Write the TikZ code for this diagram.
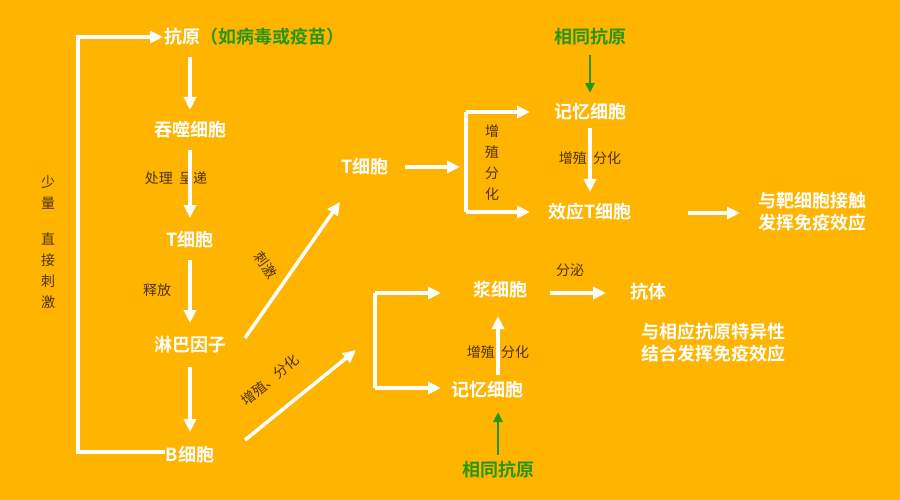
\documentclass[tikz,border=0pt]{standalone}
\usepackage{fontspec}
\usetikzlibrary{arrows.meta}
\newfontfamily\cjk[BoldFont={Noto Sans CJK SC Bold}]{Noto Sans CJK SC}
\definecolor{bg}{RGB}{255,180,0}
\definecolor{lab}{RGB}{80,50,10}
\definecolor{grn}{RGB}{40,150,20}
\begin{document}
\begin{tikzpicture}[x=1pt,y=-1pt,
  mn/.style={font=\cjk\bfseries\fontsize{18}{22}\selectfont,text=white,inner sep=1pt},
  gn/.style={font=\cjk\bfseries\fontsize{18}{22}\selectfont,text=grn,inner sep=1pt},
  lb/.style={font=\cjk\fontsize{14}{16}\selectfont,text=lab,inner sep=1pt},
  ar/.style={draw=white,line width=3.5pt,-{Triangle[length=13pt,width=12pt]}},
  ln/.style={draw=white,line width=3.5pt},
  ga/.style={draw=grn,line width=2.5pt,-{Triangle[length=10pt,width=9pt]}}]
\fill[bg] (0,0) rectangle (900,500);
\node[mn,anchor=west] (ky) at (163,37) {抗原\textcolor{grn}{（如病毒或疫苗）}};
\node[mn] (tsx) at (190,130) {吞噬细胞};
\node[lb] (cl) at (176,178) {处理\ \ 呈递};
\node[mn] (t1) at (190,240) {T细胞};
\node[lb] (sf) at (157,290) {释放};
\node[mn] (lb1) at (190,345) {淋巴因子};
\node[mn] (b1) at (190,455) {B细胞};
\node[lb,align=center] (ls) at (48,242) {少\\[5pt]量\\[20pt]直\\[5pt]接\\[5pt]刺\\[5pt]激};
\coordinate (bl1) at (78,452);
\coordinate (bl2) at (78,37);
\draw[ar,line join=miter] (b1.west |- bl1) -- (bl1) -- (bl2) -- (ky.west);
\draw[ar] (190,57) -- (190,110);
\draw[ar] (190,150) -- (190,218);
\draw[ar] (190,260) -- (190,323);
\draw[ar] (190,367) -- (190,432);
\node[mn] (t2) at (365,167) {T细胞};
\draw[ar] (245,338) -- (340,202);
\node[lb,rotate=-55] (cj) at (266,265) {刺激};
\draw[ar] (245,440) -- (356,350);
\node[lb,rotate=39] (zz) at (270,380) {增殖、分化};
\draw[ar] (405,167) -- (460,167);
\coordinate (u1) at (466,112); \coordinate (u2) at (466,212);
\draw[ln] (u1) -- (u2);
\node[mn] (jy1) at (590,112) {记忆细胞};
\node[mn] (xy) at (590,212) {效应T细胞};
\draw[ar] (u1) -- (530,112);
\draw[ar] (u2) -- (530,212);
\node[lb,align=center] (zf) at (492,163) {增\\[5pt]殖\\[5pt]分\\[5pt]化};
\node[gn] (g1) at (590,37) {相同抗原};
\draw[ga] (590,55) -- (590,93);
\node[lb] (zf2) at (590,158) {增殖\ \ 分化};
\draw[ar] (590,128) -- (590,192);
\draw[ar] (688,213) -- (740,213);
\node[mn,align=center] (bx) at (812,212) {与靶细胞接触\\发挥免疫效应};
\coordinate (v1) at (375,293); \coordinate (v2) at (375,388);
\draw[ln] (v1) -- (v2);
\node[mn] (jx) at (500,290) {浆细胞};
\node[mn] (jy2) at (487,390) {记忆细胞};
\draw[ar] (v1) -- (441,293);
\draw[ar] (v2) -- (441,388);
\draw[ar] (550,293) -- (606,293);
\node[lb] (fm) at (570,270) {分泌};
\node[mn] (kt) at (648,292) {抗体};
\node[mn,align=center] (kd) at (713,343) {与相应抗原特异性\\结合发挥免疫效应};
\node[lb] (zf3) at (498,352) {增殖\ \ 分化};
\draw[ar] (498,375) -- (498,316);
\node[gn] (g2) at (498,470) {相同抗原};
\draw[ga] (498,455) -- (498,412);
\end{tikzpicture}
\end{document}
